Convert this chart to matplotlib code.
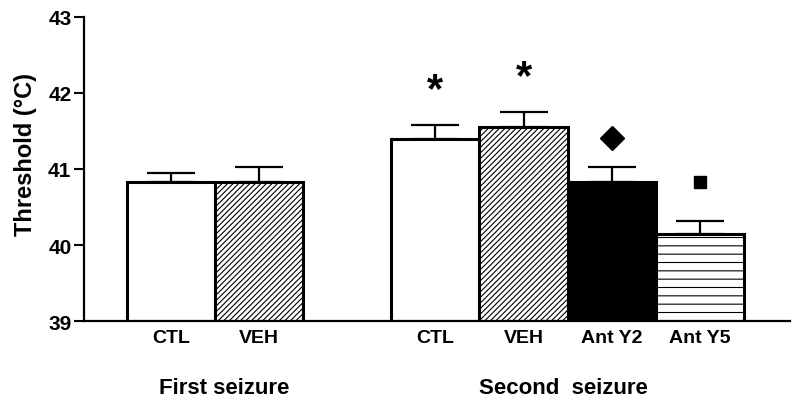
import matplotlib.pyplot as plt

plt.rcParams["font.family"] = ["Liberation Sans", "DejaVu Sans"]
plt.rcParams["font.weight"] = "bold"
plt.rcParams["axes.labelweight"] = "bold"
plt.rcParams["hatch.linewidth"] = 0.8

# data
labels = ["CTL", "VEH", "CTL", "VEH", "Ant Y2", "Ant Y5"]
positions = [1, 2, 4, 5, 6, 7]
means = [40.83, 40.83, 41.39, 41.55, 40.83, 40.14]
sem = [0.12, 0.20, 0.19, 0.20, 0.19, 0.18]
fills = ["white", "white", "white", "white", "black", "white"]
hatches = [None, "//////", None, "//////", None, "--"]

groups = ["First seizure", "Second  seizure"]
group_x = [1.6, 5.45]

fig = plt.figure(figsize=(8, 4.14), dpi=100)
ax = fig.add_axes([0.105, 0.222, 0.883, 0.735])

for x, m, e, fc, h in zip(positions, means, sem, fills, hatches):
    ax.bar(x, m - 39, bottom=39, width=1.0, color=fc, edgecolor="black",
           linewidth=2.2, hatch=h, zorder=2)
    ax.errorbar(x, m, yerr=[[0], [e]], color="black", capsize=17,
                elinewidth=1.6, capthick=1.6, zorder=1)

# significance markers
ax.text(4, 41.78, "*", ha="center", va="bottom", fontsize=30)
ax.text(5, 41.94, "*", ha="center", va="bottom", fontsize=30)
ax.plot(6, 41.41, marker="D", color="black", markersize=12)
ax.plot(7, 40.83, marker="s", color="black", markersize=8)

ax.set_ylim(39, 43)
ax.set_xlim(0.01, 8.03)
ax.set_yticks([39, 40, 41, 42, 43])
ax.tick_params(axis="y", direction="out", length=7, width=1.5, labelsize=15, pad=2)
ax.set_xticks(positions)
ax.set_xticklabels(labels, fontsize=14)
ax.tick_params(axis="x", length=0, pad=6)
for s in ["top", "right"]:
    ax.spines[s].set_visible(False)
ax.spines["left"].set_linewidth(1.6)
ax.spines["bottom"].set_linewidth(1.6)

ax.set_ylabel("Threshold (°C)", fontsize=17)
ax.yaxis.set_label_coords(-0.066, 0.55)

for gx, g in zip(group_x, groups):
    ax.text(gx, 38.13, g, ha="center", va="center", fontsize=16)

fig.savefig("out.png", dpi=100)
